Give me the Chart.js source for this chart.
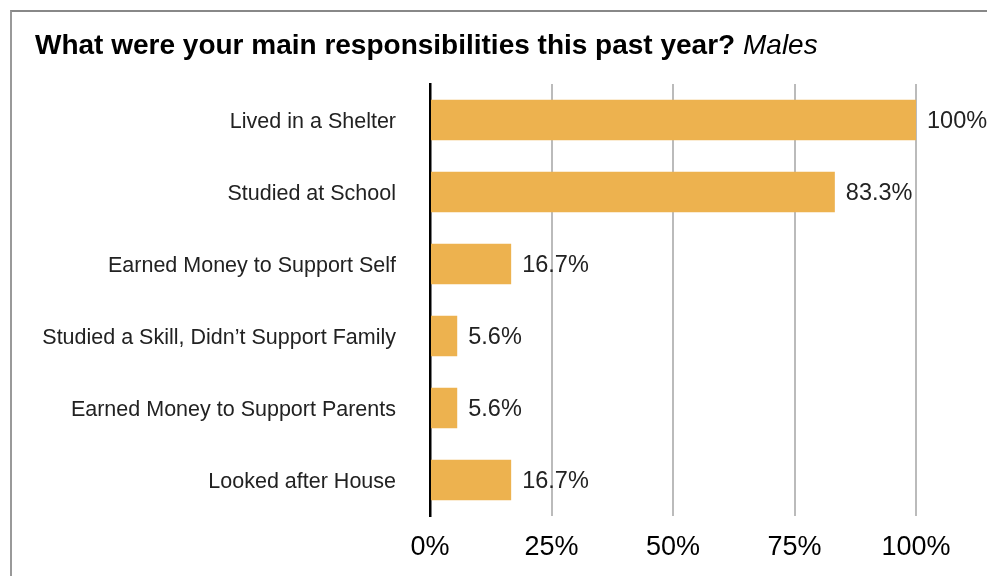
<!DOCTYPE html>
<html>
<head>
<meta charset="utf-8">
<script src="https://cdn.jsdelivr.net/npm/chart.js@4"></script>
<style>
    body { margin: 0; background: #fff; }
    #wrap { position: relative; width: 987px; height: 576px; overflow: hidden; }
    #frame {
        position: absolute; left: 10px; top: 10px; width: 1000px; height: 600px;
        border-top: 2px solid #888; border-left: 2px solid #999;
    }
    #title {
        position: absolute; left: 35px; top: 29px;
        font-family: 'Liberation Sans', Arial, sans-serif; font-size: 28px;
        font-weight: bold; color: #000; white-space: nowrap;
    }
    #title i { font-weight: normal; }
    #chart { position: absolute; left: 0; top: 0; }
</style>
</head>
<body>
<div id="wrap">
    <div id="frame"></div>
    <canvas id="chart" width="987" height="576"></canvas>
    <div id="title">What were your main responsibilities this past year? <i>Males</i></div>
</div>
<script>
// Data
const categories = [
    'Lived in a Shelter',
    'Studied at School',
    'Earned Money to Support Self',
    'Studied a Skill, Didn\u2019t Support Family',
    'Earned Money to Support Parents',
    'Looked after House'
];
const percentages = [100, 83.3, 16.7, 5.6, 5.6, 16.7];
const tickValues = [0, 25, 50, 75, 100];

const FONT = "'Liberation Sans', Arial, sans-serif";

// Value labels at bar ends
const valueLabels = {
    id: 'valueLabels',
    afterDatasetsDraw(chart) {
        const ctx = chart.ctx;
        const meta = chart.getDatasetMeta(0);
        ctx.save();
        ctx.font = '23.5px ' + FONT;
        ctx.fillStyle = '#222';
        ctx.textAlign = 'left';
        ctx.textBaseline = 'middle';
        meta.data.forEach((bar, i) => {
            const v = percentages[i];
            ctx.fillText(v + '%', bar.x + 11, bar.y + 2);
        });
        ctx.restore();
    }
};

const ctx = document.getElementById('chart').getContext('2d');
new Chart(ctx, {
    type: 'bar',
    data: {
        labels: categories,
        datasets: [{
            data: percentages,
            backgroundColor: '#EDB24F',
            borderWidth: 0,
            categoryPercentage: 1,
            barPercentage: 0.56
        }]
    },
    options: {
        indexAxis: 'y',
        responsive: false,
        animation: false,
        layout: { padding: { left: 0, right: 71, top: 84, bottom: 0 } },
        plugins: {
            legend: { display: false },
            tooltip: { enabled: false }
        },
        scales: {
            x: {
                min: 0,
                max: 100,
                afterBuildTicks: s => { s.ticks = tickValues.map(v => ({ value: v })); },
                afterFit: s => { s.height = 60; },
                grid: { color: '#bbb', lineWidth: 2, drawTicks: false },
                border: { display: false },
                ticks: {
                    padding: 15,
                    color: '#000',
                    font: { family: FONT, size: 27 },
                    callback: v => v + '%'
                }
            },
            y: {
                afterFit: s => { s.width = 430; },
                grid: { display: false, drawTicks: false },
                border: { display: true, color: '#000', width: 2.5 },
                ticks: {
                    padding: 34,
                    labelOffset: 2,
                    color: '#222',
                    font: { family: FONT, size: 21.5 }
                }
            }
        }
    },
    plugins: [valueLabels]
});
</script>
</body>
</html>
